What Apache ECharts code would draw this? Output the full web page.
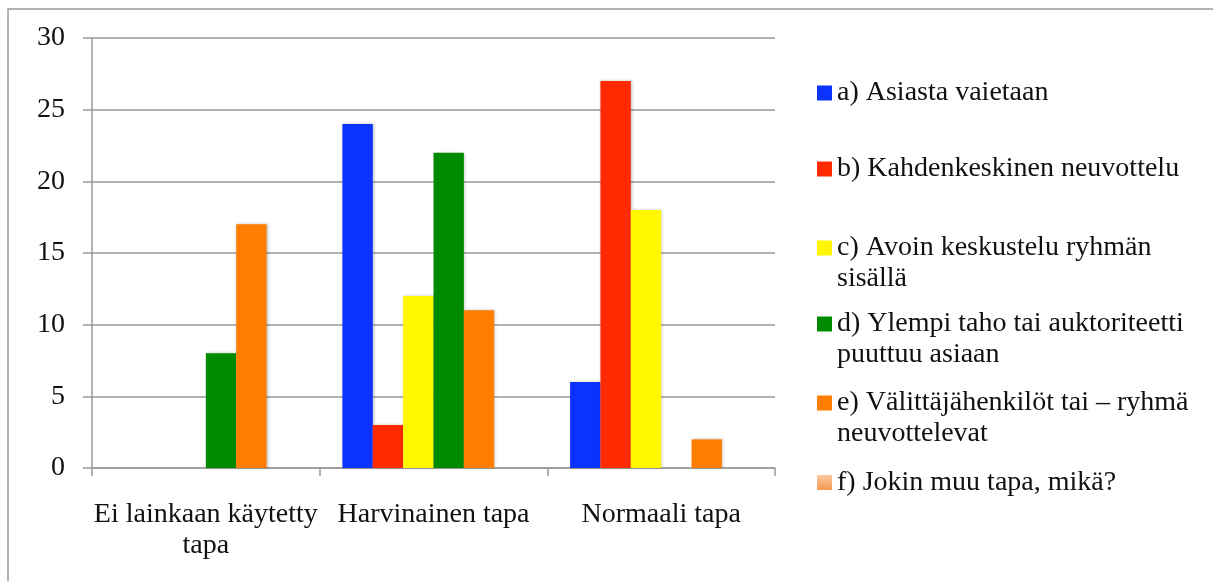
<!DOCTYPE html>
<html>
<head>
<meta charset="utf-8">
<script src="https://cdn.jsdelivr.net/npm/echarts@6/dist/echarts.min.js"></script>
<style>
html,body{margin:0;padding:0;background:#fff;}
#chart{width:1213px;height:581px;}
</style>
</head>
<body>
<div id="chart"></div>
<script>
const categories = ['Ei lainkaan käytetty\ntapa', 'Harvinainen tapa', 'Normaali tapa'];
const seriesNames = [
  'a) Asiasta vaietaan',
  'b) Kahdenkeskinen neuvottelu',
  'c) Avoin keskustelu ryhmän\nsisällä',
  'd) Ylempi taho tai auktoriteetti\npuuttuu asiaan',
  'e) Välittäjähenkilöt tai – ryhmä\nneuvottelevat',
  'f) Jokin muu tapa, mikä?'
];
const valuesA = [0, 24, 6];
const valuesB = [0, 3, 27];
const valuesC = [0, 12, 18];
const valuesD = [8, 22, 0];
const valuesE = [17, 11, 2];
const valuesF = [0, 0, 0];
const yTicks = [0, 5, 10, 15, 20, 25, 30];

const FONT = 'Liberation Serif';
const FS = 28;
const colors = ['#0A33FF', '#FF2A00', '#FFF800', '#008A00', '#FF7E00',
  {type:'linear', x:0, y:0, x2:0, y2:1, colorStops:[{offset:0,color:'#FCC8A0'},{offset:1,color:'#F59A50'}]}];
const allValues = [valuesA, valuesB, valuesC, valuesD, valuesE, valuesF];

const series = allValues.map((vals, i) => ({
  name: seriesNames[i],
  type: 'bar',
  data: vals,
  barGap: '0%',
  barCategoryGap: '20%',
  itemStyle: {
    color: colors[i],
    shadowColor: 'rgba(0,0,0,0.25)',
    shadowBlur: 3,
    shadowOffsetX: 1,
    shadowOffsetY: 0
  },
  emphasis: {disabled: true}
}));

const L = 31;
const legendTops = [77.5, 153.5, 201.5, 277.5, 356.5, 467];
const legends = seriesNames.map((n, i) => {
  const twoLine = n.indexOf('\n') >= 0;
  return {
    data: [n],
    left: 817,
    top: legendTops[i],
    orient: 'vertical',
    icon: 'rect',
    itemWidth: 15,
    itemHeight: 15,
    itemGap: 0,
    padding: 0,
    selectedMode: false,
    formatter: name => twoLine ? ' \n' + name : name,
    textStyle: {
      fontFamily: FONT,
      fontSize: FS,
      color: '#111',
      lineHeight: L
    }
  };
});

const chart = echarts.init(document.getElementById('chart'), null, {renderer: 'canvas'});
chart.setOption({
  animation: false,
  backgroundColor: '#fff',
  color: colors,
  graphic: [{
    type: 'rect',
    shape: {x: 8, y: 9, width: 1300, height: 700},
    style: {fill: 'none', stroke: '#9a9a9a', lineWidth: 1.5},
    silent: true
  }],
  legend: legends,
  grid: {left: 92, right: 438, top: 38, bottom: 113, containLabel: false},
  xAxis: {
    type: 'category',
    data: categories,
    axisLine: {show: true, lineStyle: {color: '#999', width: 1.5}},
    axisTick: {show: true, length: 8, lineStyle: {color: '#999', width: 1.5}},
    axisLabel: {
      fontFamily: FONT, fontSize: FS, color: '#111', margin: 31, lineHeight: L,
      interval: 0
    },
    splitLine: {show: false}
  },
  yAxis: {
    type: 'value',
    min: 0, max: 30, interval: 5,
    axisLine: {show: true, lineStyle: {color: '#999', width: 1.5}},
    axisTick: {show: true, length: 9, lineStyle: {color: '#999', width: 1.5}},
    axisLabel: {
      fontFamily: FONT, fontSize: FS, color: '#111', margin: 27,
      padding: [4, 0, 0, 0],
      formatter: v => yTicks.includes(v) ? String(v) : ''
    },
    splitLine: {show: true, lineStyle: {color: '#999', width: 1.5}}
  },
  series: series
});
</script>
</body>
</html>
